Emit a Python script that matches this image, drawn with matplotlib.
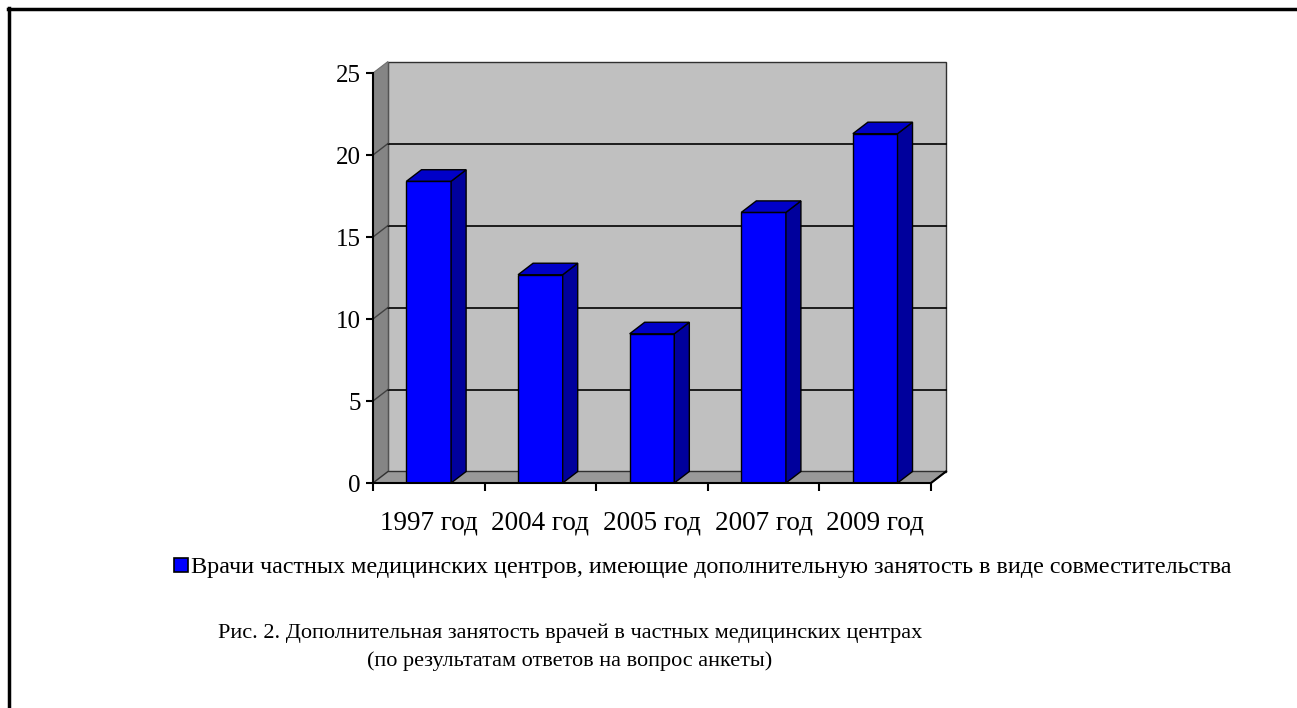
import matplotlib.pyplot as plt
from matplotlib.patches import Polygon, Rectangle
from matplotlib.lines import Line2D

# данные диаграммы
categories = ['1997 год', '2004 год', '2005 год', '2007 год', '2009 год']
values = [18.4, 12.7, 9.1, 16.5, 21.3]
series_name = 'Врачи частных медицинских центров, имеющие дополнительную занятость в виде совместительства'
caption = ('Рис. 2. Дополнительная занятость врачей в частных медицинских центрах\n'
           '(по результатам ответов на вопрос анкеты)')

plt.rcParams['font.family'] = ['Liberation Serif', 'DejaVu Serif']

W, H = 1297, 708
fig = plt.figure(figsize=(W / 100, H / 100), dpi=100)

# рамка вокруг рисунка (сверху и слева)
fig.add_artist(Line2D([8 / W, 1], [1 - 9 / H, 1 - 9 / H], color='black', lw=2.5))
fig.add_artist(Line2D([9 / W, 9 / W], [0, 1 - 8 / H], color='black', lw=2.5))

ax = fig.add_axes([373 / W, 225 / H, 558 / W, 410 / H])
ymax = 25
n = len(categories)
ax.set_xlim(0, n)
ax.set_ylim(0, ymax)

# смещение "глубины" в единицах данных
dx = 15 / (558 / n)
dy = 11.5 / (410 / ymax)

wall = '#C0C0C0'
side_wall = '#858585'
floor = '#999999'

# задняя стенка, боковая стенка, пол
ax.add_patch(Polygon([(dx, dy), (n + dx, dy), (n + dx, ymax + dy), (dx, ymax + dy)],
                     closed=True, facecolor=wall, edgecolor='#303030', lw=1, clip_on=False, zorder=0))
ax.add_patch(Polygon([(0, 0), (dx, dy), (dx, ymax + dy), (0, ymax)],
                     closed=True, facecolor=side_wall, edgecolor='#707070', lw=0.8, clip_on=False, zorder=0.5))
ax.add_patch(Polygon([(0, 0), (n, 0), (n + dx, dy), (dx, dy)],
                     closed=True, facecolor=floor, edgecolor='#303030', lw=1, clip_on=False, zorder=0.5))

# линии сетки на стенках
for v in range(5, ymax, 5):
    ax.plot([dx, n + dx], [v + dy, v + dy], color='black', lw=1.2, clip_on=False, zorder=0.6)
    ax.plot([0, dx], [v, v + dy], color='#404040', lw=1, clip_on=False, zorder=0.6)

# столбцы
width = 0.4
xs = [i + 0.5 for i in range(n)]
bars = ax.bar(xs, values, width=width, color='#0000FF', edgecolor='black', lw=1, zorder=3)
for x, v in zip(xs, values):
    x0 = x - width / 2
    x1 = x + width / 2
    ax.add_patch(Polygon([(x1, 0), (x1 + dx, dy), (x1 + dx, v + dy), (x1, v)],
                         closed=True, facecolor='#00009C', edgecolor='black', lw=1, zorder=3, clip_on=False))
    ax.add_patch(Polygon([(x0, v), (x1, v), (x1 + dx, v + dy), (x0 + dx, v + dy)],
                         closed=True, facecolor='#0000C8', edgecolor='black', lw=1, zorder=3, clip_on=False))

# оси
for s in ['top', 'right']:
    ax.spines[s].set_visible(False)
ax.spines['left'].set_linewidth(1.5)
ax.spines['bottom'].set_linewidth(1.5)
ax.spines['left'].set_zorder(4)
ax.spines['bottom'].set_zorder(4)
ax.plot([n, n + dx], [0, dy], color='black', lw=1.5, clip_on=False, zorder=4)
ax.set_facecolor('none')

ax.set_yticks(range(0, ymax + 1, 5))
ax.tick_params(axis='y', length=5, width=1.5, direction='out', labelsize=18, pad=4)
ax.set_xticks(range(n + 1))
ax.set_xticklabels([])
ax.tick_params(axis='x', which='major', length=6, width=1.5, direction='out')
ax.set_xticks(xs, minor=True)
ax.set_xticklabels(categories, minor=True)
ax.tick_params(axis='x', which='minor', length=0, labelsize=19.5, pad=20)

# легенда
fig.legend(handles=[Rectangle((0, 0), 1, 1, facecolor='#0000FF', edgecolor='black', lw=1.2)],
           labels=[series_name], loc='center', bbox_to_anchor=(703 / W, 1 - 568 / H),
           frameon=False, fontsize=17.4, handlelength=0.55, handleheight=0.55, handletextpad=0.15)

# подпись к рисунку
fig.text(570 / W, 1 - 647 / H, caption, ha='center', va='center', fontsize=16,
         multialignment='center', linespacing=1.55)

fig.savefig('out.png', dpi=100)
